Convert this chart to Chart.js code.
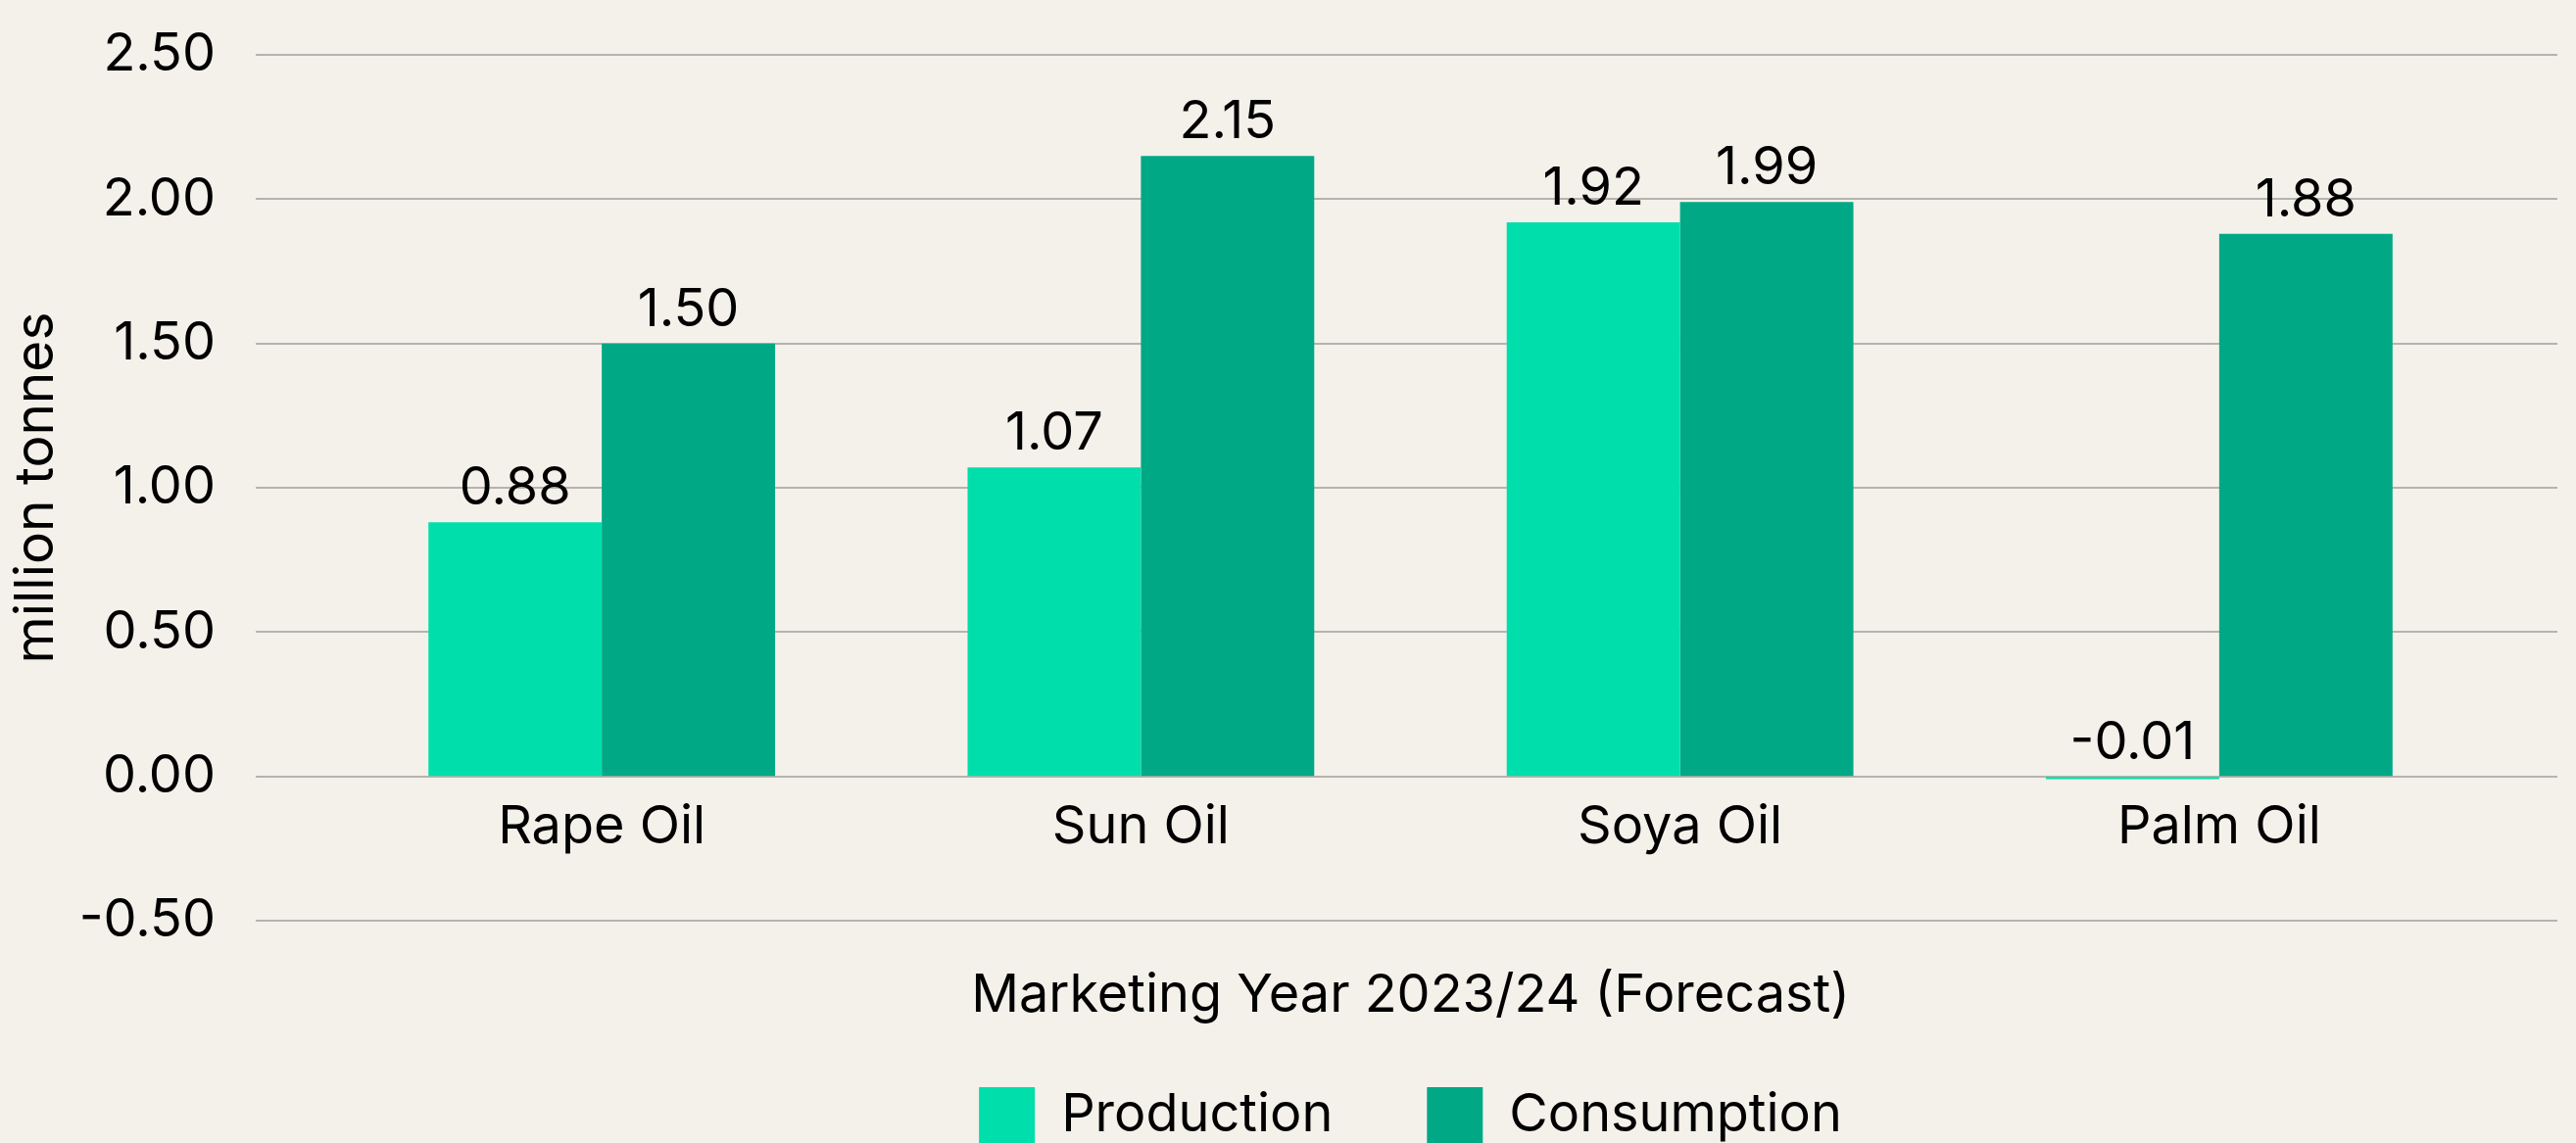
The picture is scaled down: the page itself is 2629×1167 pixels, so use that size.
<!DOCTYPE html>
<html>
<head>
    <title>Vegetable oils - production vs consumption</title>
    <script src="https://cdn.jsdelivr.net/npm/chart.js"></script>
    <style>
        html, body {
            margin: 0;
            padding: 0;
            background: #f4f1ea;
            overflow: hidden;
        }
        .chart-box {
            width: 2629px;
            height: 1177px;
            position: relative;
        }
    </style>
</head>
<body>
    <div class="chart-box">
        <canvas id="oilChart"></canvas>
    </div>

    <script>
        // data (million tonnes)
        const categories = ['Rape Oil', 'Sun Oil', 'Soya Oil', 'Palm Oil'];
        const production = [0.88, 1.07, 1.92, -0.01];
        const consumption = [1.50, 2.15, 1.99, 1.88];
        const yTicks = [-0.5, 0, 0.5, 1.0, 1.5, 2.0, 2.5];

        const FONT = 'Inter, "Noto Sans", sans-serif';

        // horizontal grid lines, a bit wider than the bar area like the original
        const gridPlugin = {
            id: 'wideGrid',
            beforeDatasetsDraw(chart) {
                const { ctx, chartArea } = chart;
                const y = chart.scales.y;
                ctx.save();
                ctx.strokeStyle = '#b5b3ad';
                ctx.lineWidth = 2;
                y.ticks.forEach(t => {
                    const py = Math.round(y.getPixelForValue(t.value));
                    ctx.beginPath();
                    ctx.moveTo(chartArea.left - 78, py);
                    ctx.lineTo(chartArea.right + 70, py);
                    ctx.stroke();
                });
                ctx.restore();
            }
        };

        // value labels above each bar
        const valuePlugin = {
            id: 'valueLabels',
            afterDatasetsDraw(chart) {
                const ctx = chart.ctx;
                ctx.save();
                ctx.font = '54px ' + FONT;
                ctx.fillStyle = '#000';
                ctx.textAlign = 'center';
                ctx.textBaseline = 'alphabetic';
                chart.data.datasets.forEach((ds, i) => {
                    chart.getDatasetMeta(i).data.forEach((bar, j) => {
                        const top = Math.min(bar.y, bar.base);
                        ctx.fillText(ds.data[j].toFixed(2), bar.x, top - 18);
                    });
                });
                ctx.restore();
            }
        };

        const config = {
            type: 'bar',
            data: {
                labels: categories,
                datasets: [{
                    label: 'Production',
                    data: production,
                    backgroundColor: '#00dfab',
                    borderWidth: 0
                }, {
                    label: 'Consumption',
                    data: consumption,
                    backgroundColor: '#00a886',
                    borderWidth: 0
                }]
            },
            options: {
                responsive: true,
                maintainAspectRatio: false,
                animation: false,
                categoryPercentage: 0.643,
                barPercentage: 1.0,
                layout: {
                    padding: { top: 56, right: 89, left: 0, bottom: 0 }
                },
                plugins: {
                    tooltip: { enabled: false },
                    legend: {
                        position: 'bottom',
                        fullSize: false,
                        weight: 1000,
                        labels: {
                            boxWidth: 57,
                            boxHeight: 57,
                            padding: 96,
                            color: '#000',
                            font: { family: FONT, size: 54 }
                        }
                    },
                    title: {
                        display: true,
                        position: 'bottom',
                        fullSize: false,
                        weight: 500,
                        text: 'Marketing Year 2023/24 (Forecast)',
                        color: '#000',
                        font: { family: FONT, size: 54, weight: 'normal' },
                        padding: { top: 44.6, bottom: -35.4 }
                    }
                },
                scales: {
                    x: {
                        // category labels sit just under the zero line
                        position: { y: 0 },
                        afterFit(scale) { scale.height = 0; },
                        grid: { display: false, drawTicks: false },
                        border: { display: false },
                        ticks: {
                            color: '#000',
                            padding: 20,
                            font: { family: FONT, size: 54 }
                        }
                    },
                    y: {
                        min: -0.5,
                        max: 2.5,
                        afterFit(scale) { scale.width = 339; },
                        afterBuildTicks(scale) {
                            scale.ticks = yTicks.map(v => ({ value: v }));
                        },
                        // invisible tick marks push the labels away from the plot
                        grid: {
                            drawOnChartArea: false,
                            drawTicks: true,
                            tickLength: 109,
                            tickColor: 'rgba(0,0,0,0)'
                        },
                        border: { display: false },
                        ticks: {
                            color: '#000',
                            padding: 10,
                            font: { family: FONT, size: 54 },
                            callback: v => Number(v).toFixed(2)
                        },
                        title: {
                            display: true,
                            text: 'million tonnes',
                            color: '#000',
                            font: { family: FONT, size: 55 },
                            padding: { top: 4, bottom: 0 }
                        }
                    }
                }
            },
            plugins: [gridPlugin, valuePlugin]
        };

        window.onload = () => {
            const ctx = document.getElementById('oilChart').getContext('2d');
            new Chart(ctx, config);
        };
    </script>
</body>
</html>
